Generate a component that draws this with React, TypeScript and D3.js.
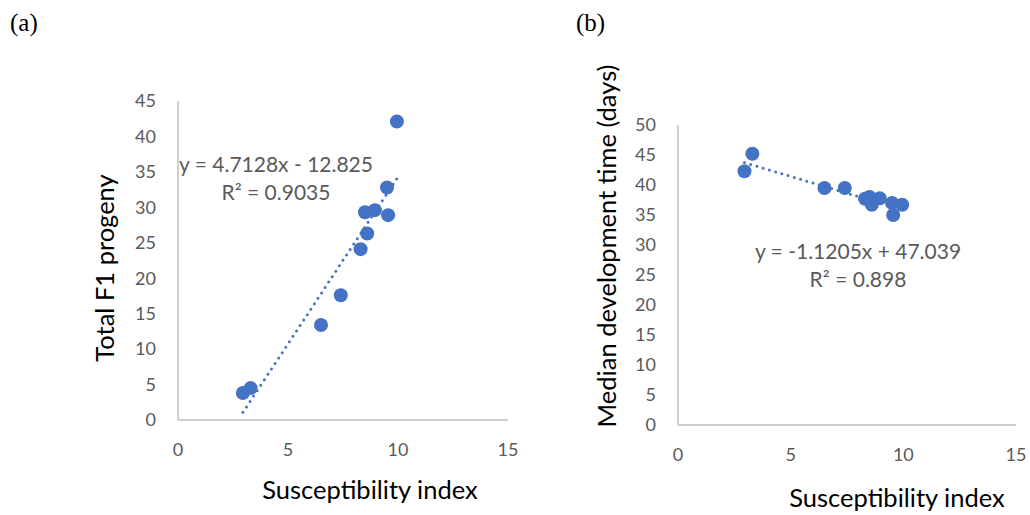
import * as d3 from 'd3'

// susceptibility index (x) shared by both panels
const suscIndex = [2.95, 3.3, 6.5, 7.4, 8.3, 8.5, 8.6, 8.95, 9.5, 9.55, 9.95]
// panel (a)
const f1Progeny = [3.8, 4.5, 13.4, 17.6, 24.1, 29.3, 26.3, 29.6, 32.8, 28.9, 42.1]
// panel (b)
const devTime = [42.3, 45.2, 39.5, 39.5, 37.7, 38.0, 36.7, 37.8, 37.0, 35.0, 36.7]

const xTicks = [0, 5, 10, 15]
const yTicksA = [0, 5, 10, 15, 20, 25, 30, 35, 40, 45]
const yTicksB = [0, 5, 10, 15, 20, 25, 30, 35, 40, 45, 50]

const fitA = { slope: 4.7128, intercept: -12.825, eq: 'y = 4.7128x - 12.825', r2: 'R² = 0.9035' }
const fitB = { slope: -1.1205, intercept: 47.039, eq: 'y = -1.1205x + 47.039', r2: 'R² = 0.898' }

const FONT = "Lato, 'Open Sans', sans-serif"
const BLUE = '#4472C4'

type PanelProps = {
    label: string
    labelX: number
    xs: number[]
    ys: number[]
    yTicks: number[]
    fit: { slope: number, intercept: number, eq: string, r2: string }
    box: { left: number, right: number, top: number, bottom: number }
    yTitle: string
    yTitlePos: [number, number]
    xTitlePos: [number, number]
    eqPos: [number, number]
}

function Panel(p: PanelProps) {
    const x = d3.scaleLinear().domain([0, 15]).range([p.box.left, p.box.right])
    const yMax = p.yTicks[p.yTicks.length - 1]
    const y = d3.scaleLinear().domain([0, yMax]).range([p.box.bottom, p.box.top])
    const data = p.xs.map((v, i) => ({ x: v, y: p.ys[i] }))
    const [x0, x1] = d3.extent(p.xs) as [number, number]
    const trend = [x0, x1].map(v => ({ x: v, y: p.fit.slope * v + p.fit.intercept }))
    const line = d3.line<{ x: number, y: number }>().x(d => x(d.x)).y(d => y(d.y))

    return (
        <g>
            <text x={p.labelX} y={31} fontFamily="'Liberation Serif', 'Times New Roman', serif" fontSize={25} fill="#000">{p.label}</text>
            {/* axes */}
            <line x1={x(0)} x2={x(0)} y1={y(0)} y2={y(yMax)} stroke="#BFBFBF" strokeWidth={1.5} />
            <line x1={x(0)} x2={x(15)} y1={y(0)} y2={y(0)} stroke="#BFBFBF" strokeWidth={1.5} />
            {p.yTicks.map(t => (
                <text key={'y' + t} x={x(0) - 22} y={y(t)} dy="0.35em" textAnchor="end"
                    fontFamily={FONT} fontSize={18} fill="#595959">{t}</text>
            ))}
            {xTicks.map(t => (
                <text key={'x' + t} x={x(t)} y={y(0) + 30} dy="0.35em" textAnchor="middle"
                    fontFamily={FONT} fontSize={18} fill="#595959">{t}</text>
            ))}
            {/* points */}
            {data.map((d, i) => (
                <circle key={i} cx={x(d.x)} cy={y(d.y)} r={7} fill={BLUE} />
            ))}
            {/* trendline */}
            <path d={line(trend) || ''} fill="none" stroke={BLUE} strokeWidth={3}
                strokeDasharray="0 6.5" strokeLinecap="round" />
            {/* equation */}
            <text x={p.eqPos[0]} y={p.eqPos[1]} textAnchor="middle" fontFamily={FONT} fontSize={21} fill="#595959">{p.fit.eq}</text>
            <text x={p.eqPos[0]} y={p.eqPos[1] + 28} textAnchor="middle" fontFamily={FONT} fontSize={21} fill="#595959">{p.fit.r2}</text>
            {/* titles */}
            <text x={p.xTitlePos[0]} y={p.xTitlePos[1]} dy="0.35em" textAnchor="middle"
                fontFamily={FONT} fontSize={25.5} fill="#000">Susceptibility index</text>
            <text transform={`translate(${p.yTitlePos[0]},${p.yTitlePos[1]}) rotate(-90)`} dy="0.35em" textAnchor="middle"
                fontFamily={FONT} fontSize={25.5} fill="#000">{p.yTitle}</text>
        </g>
    )
}

export default function App() {
    return (
        <svg width={1030} height={515} style={{ position: 'absolute', left: 0, top: 0, background: '#fff' }}>
            <rect width={1030} height={515} fill="#fff" />
            <Panel label="(a)" labelX={10} xs={suscIndex} ys={f1Progeny} yTicks={yTicksA} fit={fitA}
                box={{ left: 178, right: 508, top: 101, bottom: 420 }}
                yTitle="Total F1 progeny" yTitlePos={[105, 268]} xTitlePos={[370, 490]} eqPos={[276, 172]} />
            <Panel label="(b)" labelX={576} xs={suscIndex} ys={devTime} yTicks={yTicksB} fit={fitB}
                box={{ left: 678, right: 1016, top: 125, bottom: 425 }}
                yTitle="Median development time (days)" yTitlePos={[607, 246]} xTitlePos={[897, 498]} eqPos={[858, 259]} />
        </svg>
    )
}
